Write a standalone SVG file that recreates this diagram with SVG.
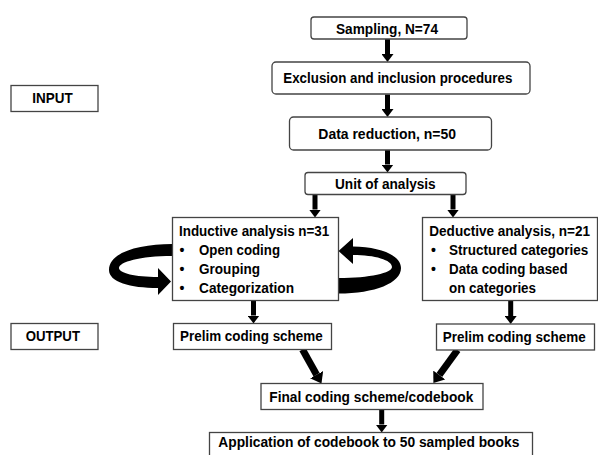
<svg xmlns="http://www.w3.org/2000/svg" width="598" height="455" viewBox="0 0 598 455">
<style>
.box{fill:#fff;stroke:#444;stroke-width:1.3}
.t{font-family:"Liberation Sans",Arial,sans-serif;font-weight:bold;font-size:14px;fill:#000}
.sh{stroke:#000;stroke-width:5;fill:none}
.sd{stroke:#000;stroke-width:7;fill:none}
.loop{fill:#000;stroke:none}
</style>
<defs>
<marker id="ah" markerUnits="userSpaceOnUse" markerWidth="8" markerHeight="12" viewBox="0 0 8 12" refX="0" refY="6" orient="auto"><path d="M0,0 L8,6 L0,12 Z" fill="#000"/></marker>
<marker id="ahd" markerUnits="userSpaceOnUse" markerWidth="10" markerHeight="15" viewBox="0 0 10 15" refX="0" refY="7.5" orient="auto"><path d="M0,0 L10,7.5 L0,15 Z" fill="#000"/></marker>
</defs>
<rect width="598" height="455" fill="#fff"/>

<g id="connectors">
<line class="sh" x1="387.5" y1="39" x2="387.5" y2="54" marker-end="url(#ah)"/>
<line class="sh" x1="387.5" y1="94.5" x2="387.5" y2="109" marker-end="url(#ah)"/>
<line class="sh" x1="387.5" y1="150" x2="387.5" y2="164.5" marker-end="url(#ah)"/>
<line class="sh" x1="315" y1="194.5" x2="315" y2="209.5" marker-end="url(#ah)"/>
<line class="sh" x1="453" y1="194.5" x2="453" y2="209.5" marker-end="url(#ah)"/>
<line class="sh" x1="253.5" y1="300.5" x2="253.5" y2="315.5" marker-end="url(#ah)"/>
<line class="sh" x1="510.7" y1="300.5" x2="510.7" y2="316" marker-end="url(#ah)"/>
<line class="sh" x1="381.7" y1="409.5" x2="381.7" y2="424.5" marker-end="url(#ah)"/>
<line class="sd" x1="302.5" y1="349.5" x2="316.6" y2="374.7" marker-end="url(#ahd)"/>
<line class="sd" x1="457.5" y1="350" x2="439.3" y2="375" marker-end="url(#ahd)"/>
<path id="loop-left" class="loop" d="M172,244 C140,244 109,252 109,270 C109,282 130,288 158,288 L158,295 L171,281.5 L158,268 L158,277 C135,277 119,273 119,268 C119,262 140,256 172,256 Z"/>
<path id="loop-right" class="loop" d="M338.5,251 L353,238 L353,246.5 C380,247 401,255 401,268 C401,283 375,293.5 338.5,293.5 L338.5,278 C370,278 392,273 392,267 C392,260 375,255 353,255 L353,264 Z"/>
</g>

<g id="n-sampling"><rect class="box" x="311" y="17" width="156" height="22" rx="3"/><text class="t" x="336" y="33.5" textLength="102" lengthAdjust="spacingAndGlyphs">Sampling, N=74</text></g>
<g id="n-exclusion"><rect class="box" x="272" y="62" width="258" height="32" rx="4"/><text class="t" x="283.3" y="83" textLength="229" lengthAdjust="spacingAndGlyphs">Exclusion and inclusion procedures</text></g>
<g id="n-reduction"><rect class="box" x="289.5" y="117" width="202" height="33" rx="4"/><text class="t" x="318.3" y="138.5" textLength="137.7" lengthAdjust="spacingAndGlyphs">Data reduction, n=50</text></g>
<g id="n-unit"><rect class="box" x="305" y="172.5" width="161" height="22" rx="3"/><text class="t" x="335" y="188.5" textLength="100.7" lengthAdjust="spacingAndGlyphs">Unit of analysis</text></g>
<g id="n-input"><rect class="box" x="11" y="85.5" width="87" height="26"/><text class="t" x="32.3" y="103.3" textLength="40.4" lengthAdjust="spacingAndGlyphs">INPUT</text></g>

<g id="n-inductive"><rect class="box" x="172.5" y="217.5" width="166" height="83"/>
<text class="t" x="179" y="235.5" textLength="150.3" lengthAdjust="spacingAndGlyphs">Inductive analysis n=31</text>
<text class="t" x="182" y="255" text-anchor="middle">•</text><text class="t" x="199" y="255" textLength="81" lengthAdjust="spacingAndGlyphs">Open coding</text>
<text class="t" x="182" y="274" text-anchor="middle">•</text><text class="t" x="199" y="274" textLength="61" lengthAdjust="spacingAndGlyphs">Grouping</text>
<text class="t" x="182" y="293" text-anchor="middle">•</text><text class="t" x="199" y="293" textLength="95" lengthAdjust="spacingAndGlyphs">Categorization</text>
</g>
<g id="n-deductive"><rect class="box" x="422.5" y="217.5" width="175" height="83"/>
<text class="t" x="429.3" y="235.5" textLength="160.7" lengthAdjust="spacingAndGlyphs">Deductive analysis, n=21</text>
<text class="t" x="433.5" y="255" text-anchor="middle">•</text><text class="t" x="449" y="255" textLength="139.3" lengthAdjust="spacingAndGlyphs">Structured categories</text>
<text class="t" x="433.5" y="274" text-anchor="middle">•</text><text class="t" x="449" y="274" textLength="118.7" lengthAdjust="spacingAndGlyphs">Data coding based</text>
<text class="t" x="449" y="293" textLength="87" lengthAdjust="spacingAndGlyphs">on categories</text>
</g>

<g id="n-output"><rect class="box" x="11" y="323.5" width="87" height="26"/><text class="t" x="25.7" y="341" textLength="54.3" lengthAdjust="spacingAndGlyphs">OUTPUT</text></g>
<g id="n-prelim-left"><rect class="box" x="173.5" y="323.5" width="158" height="26"/><text class="t" x="180" y="341" textLength="142.7" lengthAdjust="spacingAndGlyphs">Prelim coding scheme</text></g>
<g id="n-prelim-right"><rect class="box" x="436.5" y="324" width="158" height="26"/><text class="t" x="442.7" y="341.5" textLength="143" lengthAdjust="spacingAndGlyphs">Prelim coding scheme</text></g>
<g id="n-final"><rect class="box" x="261" y="383.5" width="222" height="26"/><text class="t" x="269.3" y="401.7" textLength="204" lengthAdjust="spacingAndGlyphs">Final coding scheme/codebook</text></g>
<g id="n-application"><rect class="box" x="209.5" y="432.5" width="323" height="28"/><text class="t" x="218.3" y="447" textLength="301" lengthAdjust="spacingAndGlyphs">Application of codebook to 50 sampled books</text></g>
</svg>
